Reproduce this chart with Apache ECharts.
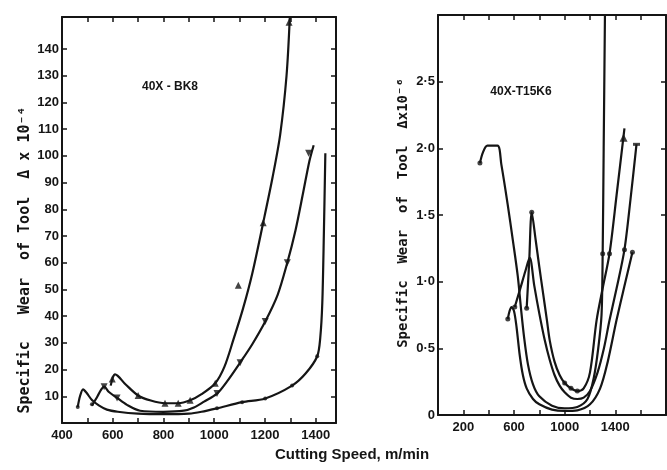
<!DOCTYPE html>
<html>
<head>
<meta charset="UTF-8">
<title>Specific wear of tool vs cutting speed</title>
<script src="https://cdn.jsdelivr.net/npm/echarts@6/dist/echarts.min.js"></script>
<style>
  html, body { margin: 0; padding: 0; background: #fff; }
  #chart { width: 667px; height: 470px; }
</style>
</head>
<body>
<div id="chart"></div>
<script>
// ---- 40X-BK8 (left panel), wear x 10^-4 ----
var bkA = [[592,14],[600,17],[609,18.2],[650,14.5],[700,10.3],[750,8.4],[806,7.4],[858,7.4],[905,8.5],[950,10.8],[1004,14.9],[1040,21],[1075,31],[1114,43],[1150,56],[1193,75],[1230,92],[1260,108],[1285,130],[1298,152]];
var bkB = [[518,6.5],[540,10],[555,12.6],[566,13.6],[585,11.6],[617,9.4],[656,6.8],[708,4.6],[800,4.2],[880,4.6],[920,5.8],[960,8],[1011,11],[1050,15.5],[1102,22.6],[1150,29.5],[1201,38],[1250,48],[1288,60],[1320,72],[1350,86],[1375,98],[1392,104]];
var bkC = [[462,6],[471,10],[483,12.6],[496,11.4],[518,8.6],[545,6.6],[577,5],[620,4.2],[700,3.5],[800,3.3],[900,3.5],[950,4.2],[1011,5.5],[1110,7.8],[1201,9.2],[1307,14],[1360,18.5],[1406,25],[1418,32],[1426,45],[1432,70],[1438,101]];
var bkMarkA = [[598,16.5],[700,10.3],[806,7.4],[858,7.4],[905,8.5],[1004,14.9],[1095,51.6],[1193,75],[1295,150]];
var bkMarkB = [[566,13.6],[617,9.4],[1011,11],[1102,22.6],[1201,38],[1288,60],[1372,101]];
var bkMarkC = [[462,6],[518,7],[1011,5.5],[1110,7.8],[1201,9.2],[1307,14],[1406,25]];

// ---- 40X-T15K6 (right panel), wear x 10^-6 ----
var tkA = [[331,1.89],[355,1.97],[390,2.02],[470,2.02],[500,1.88],[550,1.58],[591,1.31],[630,1.04],[655,0.8],[680,0.58],[710,0.38],[750,0.23],[800,0.14],[900,0.07],[1000,0.05],[1100,0.06],[1180,0.12],[1230,0.28],[1265,0.5],[1291,0.75],[1300,1.21],[1308,2.0],[1318,3.0]];
var tkB = [[700,0.8],[720,1.15],[740,1.52],[770,1.32],[800,1.11],[830,0.91],[860,0.71],[882,0.56],[920,0.4],[960,0.3],[1000,0.24],[1050,0.2],[1100,0.18],[1150,0.2],[1200,0.32],[1252,0.71],[1300,0.95],[1354,1.21],[1410,1.65],[1472,2.15]];
var tkC = [[606,0.81],[650,0.95],[690,1.08],[724,1.18],[760,0.97],[800,0.76],[843,0.56],[880,0.42],[920,0.3],[960,0.22],[1000,0.17],[1050,0.13],[1100,0.12],[1150,0.13],[1200,0.18],[1260,0.32],[1310,0.5],[1354,0.71],[1410,0.95],[1472,1.24],[1520,1.62],[1567,2.03]];
var tkD = [[551,0.72],[565,0.78],[580,0.81],[600,0.78],[620,0.66],[645,0.45],[670,0.3],[700,0.2],[750,0.12],[800,0.08],[900,0.04],[1000,0.03],[1100,0.035],[1200,0.08],[1280,0.2],[1340,0.4],[1409,0.71],[1470,0.96],[1535,1.22]];
var tkDots = [[331,1.89],[551,0.72],[606,0.81],[700,0.8],[740,1.52],[1000,0.24],[1050,0.2],[1100,0.18],[1300,1.21],[1354,1.21],[1472,1.24],[1535,1.22]];
var tkTri = [[1465,2.08]];
var tkBar = [[1567,2.03]];

// ---- ticks / labels ----
var bkXTicks = [500,600,700,800,900,1000,1100,1200,1300,1400];
var bkXLabels = [400,600,800,1000,1200,1400];
var bkYTicks = [10,20,30,40,50,60,70,80,90,100,110,120,130,140];
var tkXTicks = [200,400,600,800,1000,1200,1400,1600];
var tkXLabels = [200,600,1000,1400];
var tkYTicks = [0.5,1,1.5,2,2.5];
var tkYValues = [0,0.5,1,1.5,2,2.5];
var tkYText = ['0','0·5','1·0','1·5','2·0','2·5'];

var ink = '#151515';
var labelFont = { color: ink, fontFamily: 'Liberation Sans', fontWeight: 'bold', fontSize: 13 };

function axisBase(extra) {
  var a = {
    type: 'value',
    axisLine: { show: true, onZero: false, lineStyle: { color: ink, width: 2 } },
    axisTick: { show: true, inside: true, length: 5, lineStyle: { color: ink, width: 1.5 } },
    splitLine: { show: false },
    axisLabel: { show: false }
  };
  for (var k in extra) a[k] = extra[k];
  return a;
}
function ticks(list) {
  return { show: true, inside: true, length: 5, customValues: list, lineStyle: { color: ink, width: 1.5 } };
}
function plain(v) { return String(v); }

var chart = echarts.init(document.getElementById('chart'));

function line(data, x, y) {
  return { type: 'line', data: data, xAxisIndex: x, yAxisIndex: y, smooth: 0.3, showSymbol: false,
           lineStyle: { color: ink, width: 2.2 }, silent: true, clip: true };
}
function marks(data, x, y, symbol, size, rot) {
  return { type: 'scatter', data: data, xAxisIndex: x, yAxisIndex: y, symbol: symbol, symbolSize: size,
           symbolRotate: rot || 0, itemStyle: { color: ink }, silent: true, clip: false };
}

var option = {
  animation: false,
  backgroundColor: '#fff',
  grid: [
    { left: 62, top: 17, width: 274, height: 406 },
    { left: 438, top: 15, width: 228, height: 400 }
  ],
  xAxis: [
    axisBase({ gridIndex: 0, position: 'bottom', min: 400, max: 1480, axisTick: ticks(bkXTicks),
      axisLabel: Object.assign({ show: true, margin: 6, customValues: bkXLabels, formatter: plain }, labelFont) }),
    axisBase({ gridIndex: 0, position: 'top', min: 400, max: 1480, axisTick: ticks(bkXTicks) }),
    axisBase({ gridIndex: 1, position: 'bottom', min: 0, max: 1800, axisTick: ticks(tkXTicks),
      axisLabel: Object.assign({ show: true, margin: 6, customValues: tkXLabels, formatter: plain }, labelFont) }),
    axisBase({ gridIndex: 1, position: 'top', min: 0, max: 1800, axisTick: ticks(tkXTicks) })
  ],
  yAxis: [
    axisBase({ gridIndex: 0, position: 'left', min: 0, max: 152, axisTick: ticks(bkYTicks),
      axisLabel: Object.assign({ show: true, margin: 3, customValues: bkYTicks, formatter: plain }, labelFont) }),
    axisBase({ gridIndex: 0, position: 'right', min: 0, max: 152, axisTick: ticks(bkYTicks) }),
    axisBase({ gridIndex: 1, position: 'left', min: 0, max: 3, axisTick: ticks(tkYTicks),
      axisLabel: Object.assign({ show: true, margin: 3, customValues: tkYValues,
        formatter: function (v) { return tkYText[tkYValues.indexOf(v)]; } }, labelFont) }),
    axisBase({ gridIndex: 1, position: 'right', min: 0, max: 3, axisTick: ticks(tkYTicks) })
  ],
  series: [
    line(bkA, 0, 0), line(bkB, 0, 0), line(bkC, 0, 0),
    marks(bkMarkA, 0, 0, 'triangle', 7),
    marks(bkMarkB, 0, 0, 'triangle', 7, 180),
    marks(bkMarkC, 0, 0, 'circle', 4),
    line(tkA, 2, 2), line(tkB, 2, 2), line(tkC, 2, 2), line(tkD, 2, 2),
    marks(tkDots, 2, 2, 'circle', 5),
    marks(tkTri, 2, 2, 'triangle', 8),
    marks(tkBar, 2, 2, 'rect', [7, 3])
  ],
  graphic: [
    { type: 'text', x: 170, y: 87, style: { text: '40X - BK8', fill: ink, font: 'bold 12px "Liberation Sans"', textAlign: 'center', textVerticalAlign: 'middle' } },
    { type: 'text', x: 521, y: 92, style: { text: '40X-T15K6', fill: ink, font: 'bold 12px "Liberation Sans"', textAlign: 'center', textVerticalAlign: 'middle' } },
    { type: 'text', x: 25, y: 260, rotation: Math.PI / 2,
      style: { text: 'Specific   Wear  of Tool  Δ x 10⁻⁴', fill: ink, font: 'bold 15px "DejaVu Sans Mono"', textAlign: 'center', textVerticalAlign: 'middle' } },
    { type: 'text', x: 403, y: 213, rotation: Math.PI / 2,
      style: { text: 'Specific  Wear  of  Tool  Δx10⁻⁶', fill: ink, font: 'bold 14px "DejaVu Sans Mono"', textAlign: 'center', textVerticalAlign: 'middle' } },
    { type: 'text', x: 352, y: 455, style: { text: 'Cutting Speed, m/min', fill: ink, font: 'bold 15px "Liberation Sans"', textAlign: 'center', textVerticalAlign: 'middle' } }
  ]
};
chart.setOption(option);
</script>
</body>
</html>
